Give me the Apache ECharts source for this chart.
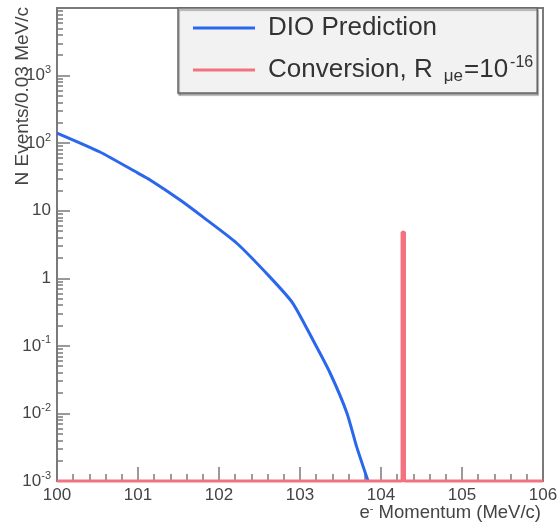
<!DOCTYPE html>
<html>
<head>
<meta charset="utf-8">
<script src="https://cdn.jsdelivr.net/npm/echarts@6/dist/echarts.min.js"></script>
<style>
html,body{margin:0;padding:0;background:#fff;}
#chart{width:557px;height:525px;}
</style>
</head>
<body>
<div id="chart"></div>
<script>
// ---- data ----
var dioMomentum = [100.0, 100.53, 101.0, 101.15, 101.52, 101.80, 102.22, 102.63, 102.91, 103.16, 103.37, 103.58, 103.70, 103.84];
var dioEvents   = [141, 74, 36, 28.5, 14.4, 8.1, 3.3, 1.04, 0.43, 0.122, 0.040, 0.0101, 0.0032, 0.001];
var convMomentum = [100.0, 104.26, 104.26, 104.29, 104.29, 106.0];
var convEvents   = [0.001, 0.001, 4.8, 4.8, 0.001, 0.001];
var xTickValues = [100, 101, 102, 103, 104, 105, 106];
var yTickValues = [1e-3, 1e-2, 1e-1, 1, 10, 100, 1000];
var yTickLabels = ['10^{-3}', '10^{-2}', '10^{-1}', '1', '10', '10^{2}', '10^{3}'];
var yMajorTicks = [1e-3, 1e-2, 1e-1, 1, 10, 100, 1000, 10000];
var yMinorMultipliers = [2, 3, 4, 5, 6, 7, 8, 9];
var yMinorDecades = [1e-3, 1e-2, 1e-1, 1, 10, 100, 1000];
var seriesNames = ['DIO Prediction', 'Conversion'];

// minor ticks, expressed in decades (log10 of the value) for a helper linear axis spanning the same range
var yMinorTicksLog = [];
yMinorDecades.forEach(function (d) {
  yMinorMultipliers.forEach(function (m) { yMinorTicksLog.push(Math.log10(m * d)); });
});

function zip(xs, ys) { return xs.map(function (x, i) { return [x, ys[i]]; }); }

function fmtPow(s) {
  var m = s.match(/^10\^\{(.*)\}$/);
  if (m) return '{b|10}{s|' + m[1] + '}';
  return '{b|' + s + '}';
}

var FONT = '"Liberation Sans", Arial, Helvetica, sans-serif';
var GRAY = '#7a7a7a';
var TXT = '#444';
var Y_MIN = 1e-3, Y_MAX = 1e4;

var chart = echarts.init(document.getElementById('chart'));
var option = {
  animation: false,
  backgroundColor: '#ffffff',
  grid: {
    left: 57, right: 14, top: 8, bottom: 44,
    outerBoundsMode: 'none', containLabel: false,
    show: true, borderColor: GRAY, borderWidth: 2, backgroundColor: 'transparent'
  },
  xAxis: {
    type: 'value', min: 100, max: 106, interval: 1, position: 'bottom',
    axisLine: { show: true, onZero: false, lineStyle: { color: GRAY, width: 2 } },
    axisTick: { show: true, inside: true, length: 14, lineStyle: { color: GRAY, width: 1.5 } },
    minorTick: { show: true, splitNumber: 5, length: 7, lineStyle: { color: GRAY, width: 1.5 } },
    splitLine: { show: false },
    axisLabel: {
      margin: 6, color: TXT, fontSize: 17, fontFamily: FONT,
      customValues: xTickValues, showMinLabel: true, showMaxLabel: true
    }
  },
  yAxis: [{
    type: 'log', logBase: 10, min: Y_MIN, max: Y_MAX, position: 'left',
    axisLine: { show: true, onZero: false, lineStyle: { color: GRAY, width: 2 } },
    axisTick: { show: true, inside: true, length: 13, customValues: yMajorTicks, lineStyle: { color: GRAY, width: 1.5 } },
    splitLine: { show: false },
    axisLabel: {
      margin: 6, color: TXT, fontFamily: FONT,
      customValues: yTickValues,
      formatter: function (v) {
        var i = yTickValues.findIndex(function (t) { return Math.abs(Math.log10(t) - Math.log10(v)) < 1e-6; });
        return i >= 0 ? fmtPow(yTickLabels[i]) : '';
      },
      rich: {
        b: { fontSize: 17, fontFamily: FONT, color: TXT, lineHeight: 22 },
        s: { fontSize: 11, fontFamily: FONT, color: TXT, verticalAlign: 'top', lineHeight: 10 }
      }
    }
  }, {
    type: 'value', min: Math.log10(Y_MIN), max: Math.log10(Y_MAX), position: 'left', offset: 0,
    axisLine: { show: false, onZero: false },
    axisTick: { show: true, inside: true, length: 6, customValues: yMinorTicksLog, lineStyle: { color: GRAY, width: 1.5 } },
    splitLine: { show: false },
    axisLabel: { show: false }
  }],
  legend: {
    show: true, orient: 'vertical', left: 178, top: 8,
    padding: [7, 4, 8, 15], itemGap: 14,
    backgroundColor: '#f2f2f2', borderColor: '#666', borderWidth: 1.5,
    shadowColor: 'rgba(0,0,0,0.35)', shadowOffsetX: 1, shadowOffsetY: 2, shadowBlur: 1,
    icon: 'rect', itemWidth: 62, itemHeight: 3,
    selectedMode: false,
    data: seriesNames,
    formatter: function (name) {
      if (name === seriesNames[0]) return '{m|DIO Prediction}';
      return '{m|Conversion, R}{sub|\u03bce}{m|=10}{sup|-16}';
    },
    textStyle: {
      color: '#333', fontFamily: FONT, fontSize: 26, padding: [0, 0, 0, 8],
      rich: {
        m: { fontSize: 26, fontFamily: FONT, color: '#333', lineHeight: 30 },
        sub: { fontSize: 17, fontFamily: FONT, color: '#333', verticalAlign: 'bottom', lineHeight: 6, padding: [0, 1, 0, 11] },
        sup: { fontSize: 16, fontFamily: FONT, color: '#333', verticalAlign: 'top', lineHeight: 6, padding: [0, 0, 0, 2] }
      }
    }
  },
  series: [{
    name: seriesNames[0], type: 'line', yAxisIndex: 0,
    data: zip(dioMomentum, dioEvents),
    showSymbol: false, symbol: 'none', smooth: 0.2,
    clip: false,
    lineStyle: { color: '#2a66ee', width: 3 },
    itemStyle: { color: '#2a66ee' },
    z: 3
  }, {
    name: seriesNames[1], type: 'line', yAxisIndex: 0,
    data: zip(convMomentum, convEvents),
    showSymbol: false, symbol: 'none', clip: false,
    lineStyle: { color: '#f4717f', width: 3 },
    itemStyle: { color: '#f4717f' },
    z: 4
  }],
  graphic: [{
    type: 'text', x: 23, y: 7, rotation: Math.PI / 2,
    style: {
      text: 'N Events/0.03 MeV/c', fill: TXT,
      font: '19px ' + FONT,
      align: 'right', verticalAlign: 'middle',
      textAlign: 'right', textVerticalAlign: 'middle'
    }
  }, {
    type: 'text', x: 541, y: 513,
    style: {
      text: '{n|e}{s|-}{n| Momentum (MeV/c)}', fill: TXT,
      font: '18px ' + FONT,
      align: 'right', verticalAlign: 'middle',
      textAlign: 'right', textVerticalAlign: 'middle',
      rich: {
        n: { fontSize: 18.5, fontFamily: FONT, fill: TXT, lineHeight: 20 },
        s: { fontSize: 11, fontFamily: FONT, fill: TXT, verticalAlign: 'top', lineHeight: 8 }
      }
    }
  }]
};
chart.setOption(option);
</script>
</body>
</html>
